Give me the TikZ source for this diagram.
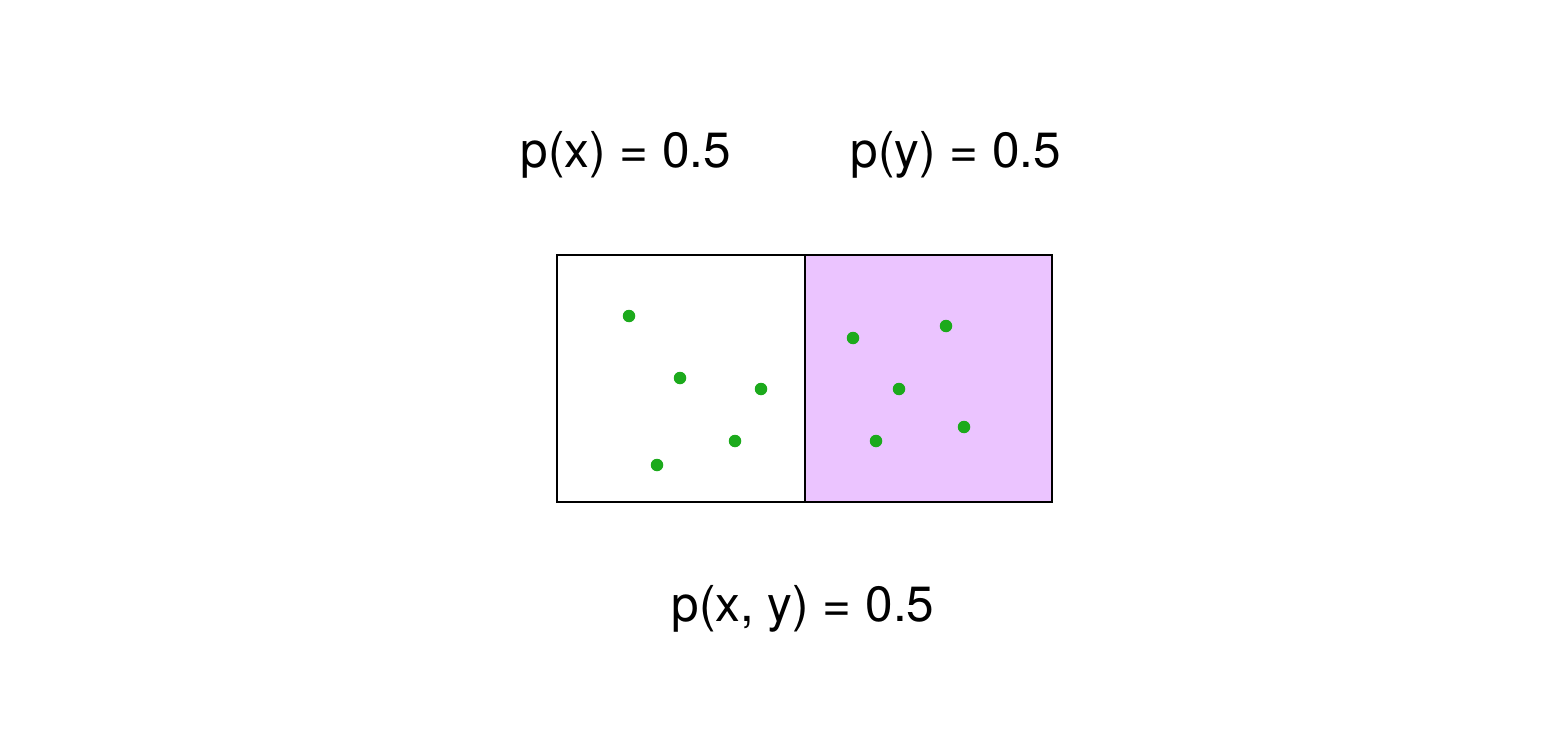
\documentclass[tikz,border=0pt]{standalone}
\usepackage{fontspec}
\setmainfont{TeX Gyre Heros}
\definecolor{boxpurple}{HTML}{EBC4FF}
\definecolor{dotgreen}{HTML}{1CAA1C}
\begin{document}
\begin{tikzpicture}[x=1pt,y=-1pt,
  lbl/.style={anchor=base,inner sep=0pt,font=\fontsize{49.5}{58}\selectfont},
  cell/.style={draw=black,line width=2pt,minimum height=247pt,inner sep=0pt,anchor=north west},
  pt/.style={circle,fill=dotgreen,minimum size=12.5pt,inner sep=0pt}]
\useasboundingbox (0,0) rectangle (1558,754);
\node[cell,minimum width=248pt] (L) at (555.5,254) {};
\node[cell,fill=boxpurple,minimum width=247pt] (R) at (803.5,254) {};
\node[lbl] (px) at (626,168) {p(x) = 0.5};
\node[lbl] (py) at (956,168) {p(y) = 0.5};
\node[lbl] (pxy) at (803,621) {p(x, y) = 0.5};
\node[pt] (a1) at (629,316) {};
\node[pt] (a2) at (680,378) {};
\node[pt] (a3) at (761,389) {};
\node[pt] (a4) at (735,441) {};
\node[pt] (a5) at (657,465) {};
\node[pt] (b1) at (853,338) {};
\node[pt] (b2) at (946,326) {};
\node[pt] (b3) at (899,389) {};
\node[pt] (b4) at (876,441) {};
\node[pt] (b5) at (964,427) {};
\end{tikzpicture}
\end{document}
